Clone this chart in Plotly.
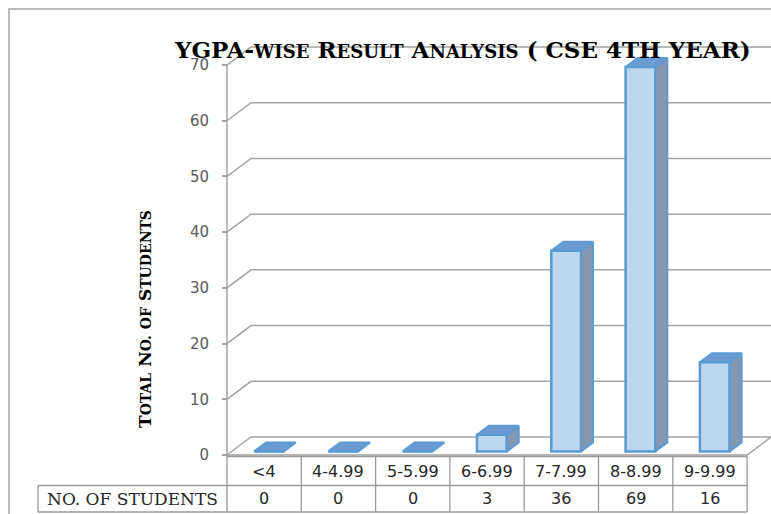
import plotly.graph_objects as go

# data
categories = ["<4", "4-4.99", "5-5.99", "6-6.99", "7-7.99", "8-8.99", "9-9.99"]
students = [0, 0, 0, 3, 36, 69, 16]
y_ticks = [0, 10, 20, 30, 40, 50, 60, 70]
row_label = "NO. OF STUDENTS"

W, H = 771, 514
COL_PX = 74.3          # pixels per category
UNIT_PX = 5.571        # pixels per student
X0_PX, Y0_PX = 227, 455  # pixel position of the front y-axis / floor


def px_x(p):
    return -0.5 + (p - X0_PX) / COL_PX


def px_y(p):
    return (Y0_PX - p) / UNIT_PX


# 3d depth of the floor / walls and of the bars
DX, DY = 24 / COL_PX, 18 / UNIT_PX
F0, F1 = 0.2, 0.7
BW = 0.4
X_END = px_x(W) + 0.2
N = len(categories)

GRID = "#A3A3A3"
FRONT = "#BDD7EE"
EDGE = "#5B9BD5"
SIDE = "#8497B0"
TOP = "#6C9BD2"

fig = go.Figure()

shapes = []
# back wall gridlines (diagonal then horizontal)
for v in y_ticks:
    shapes.append(dict(type="path", xref="x", yref="y", layer="below",
                       path=f"M{-0.5},{v} L{-0.5 + DX},{v + DY} L{X_END},{v + DY}",
                       line=dict(color=GRID, width=1.5)))
# floor front edge and right edge
shapes.append(dict(type="path", xref="x", yref="y", layer="below",
                   path=f"M{-0.5},0 L{N - 0.5},0 L{N - 0.5 + DX},{DY}",
                   line=dict(color=GRID, width=1.5)))
# front y axis line, down through the table
shapes.append(dict(type="line", xref="x", yref="y", x0=-0.5, x1=-0.5,
                   y0=px_y(512), y1=y_ticks[-1], line=dict(color=GRID, width=1.5)))

# data table grid
t_top, t_mid, t_bot = px_y(456.5), px_y(485.5), px_y(512)
left = px_x(38)
tl = dict(color="#9A9A9A", width=1.3)
shapes.append(dict(type="line", xref="x", yref="y", x0=-0.5, x1=N - 0.5, y0=t_top, y1=t_top, line=tl))
shapes.append(dict(type="line", xref="x", yref="y", x0=left, x1=N - 0.5, y0=t_mid, y1=t_mid, line=tl))
shapes.append(dict(type="line", xref="x", yref="y", x0=left, x1=N - 0.5, y0=t_bot, y1=t_bot, line=tl))
shapes.append(dict(type="line", xref="x", yref="y", x0=left, x1=left, y0=t_mid, y1=t_bot, line=tl))
for k in range(1, N + 1):
    shapes.append(dict(type="line", xref="x", yref="y", x0=k - 0.5, x1=k - 0.5,
                       y0=t_bot, y1=t_top, line=tl))

# chart frame
shapes.append(dict(type="rect", xref="paper", yref="paper", x0=9 / W, x1=1.05,
                   y0=-0.05, y1=1 - 9 / H, line=dict(color="#A6A6A6", width=1.5)))

# front faces of the bars
a, b = F0 * DX, F0 * DY
c, d = F1 * DX, F1 * DY
fig.add_trace(go.Bar(x=[i + a for i in range(N)], y=students, base=b, width=BW,
                     marker=dict(color=FRONT, line=dict(color=EDGE, width=2.5)),
                     showlegend=False, hoverinfo="skip"))

# side and top faces
sx, sy, tx, ty = [], [], [], []
for i, v in enumerate(students):
    r = i + BW / 2
    l = i - BW / 2
    if v > 0:
        sx += [r + a, r + c, r + c, r + a, r + a, None]
        sy += [b, d, v + d, v + b, b, None]
    tx += [l + a, l + c, r + c, r + a, l + a, None]
    ty += [v + b, v + d, v + d, v + b, v + b, None]
fig.add_trace(go.Scatter(x=sx, y=sy, mode="lines", fill="toself", fillcolor=SIDE,
                         line=dict(color=EDGE, width=2), showlegend=False, hoverinfo="skip"))
fig.add_trace(go.Scatter(x=tx, y=ty, mode="lines", fill="toself", fillcolor=TOP,
                         line=dict(color=EDGE, width=2), showlegend=False, hoverinfo="skip"))

annotations = []
cell_font = dict(family="DejaVu Sans", size=16, color="#262626")
for i, cat in enumerate(categories):
    annotations.append(dict(x=i, y=(t_top + t_mid) / 2, xref="x", yref="y", text=cat,
                            showarrow=False, font=cell_font))
for i, v in enumerate(students):
    annotations.append(dict(x=i, y=(t_mid + t_bot) / 2, xref="x", yref="y", text=str(v),
                            showarrow=False, font=cell_font))
annotations.append(dict(x=(left - 0.5) / 2, y=(t_mid + t_bot) / 2, xref="x", yref="y",
                        text=row_label, showarrow=False,
                        font=dict(family="DejaVu Serif", size=17, color="#262626")))

sm = '<span style="font-size:{}px">{}</span>'
title = ("YGPA-" + sm.format(18, "WISE") + " R" + sm.format(18, "ESULT") + " A"
         + sm.format(18, "NALYSIS") + " ( CSE 4TH YEAR)")
annotations.append(dict(x=462 / W, y=1 - 50 / H, xref="paper", yref="paper", text=title,
                        xanchor="center", yanchor="middle", showarrow=False,
                        font=dict(family="DejaVu Serif", size=23, color="black", weight="bold")))
ytitle = ("T" + sm.format(14, "OTAL") + " N" + sm.format(14, "O.") + " " + sm.format(14, "OF")
          + " S" + sm.format(14, "TUDENTS"))
annotations.append(dict(x=145 / W, y=1 - 319 / H, xref="paper", yref="paper", text=ytitle,
                        xanchor="center", yanchor="middle", textangle=-90, showarrow=False,
                        font=dict(family="DejaVu Serif", size=17, color="black", weight="bold")))

fig.update_layout(
    width=W, height=H,
    margin=dict(l=0, r=0, t=0, b=0),
    paper_bgcolor="white", plot_bgcolor="white",
    shapes=shapes, annotations=annotations,
    xaxis=dict(range=[px_x(0), px_x(W)], visible=False),
    yaxis=dict(range=[px_y(H), px_y(0)], anchor="free", position=X0_PX / W,
               tickvals=y_ticks, ticks="outside", ticklen=5, tickwidth=1.5, tickcolor=GRID,
               ticklabelstandoff=10,
               showgrid=False, zeroline=False, showline=False,
               tickfont=dict(family="DejaVu Sans", size=15, color="#595959")),
    showlegend=False,
)

fig.write_html("out.html", config={"displayModeBar": False},
               post_script="document.body.style.margin='0';")
